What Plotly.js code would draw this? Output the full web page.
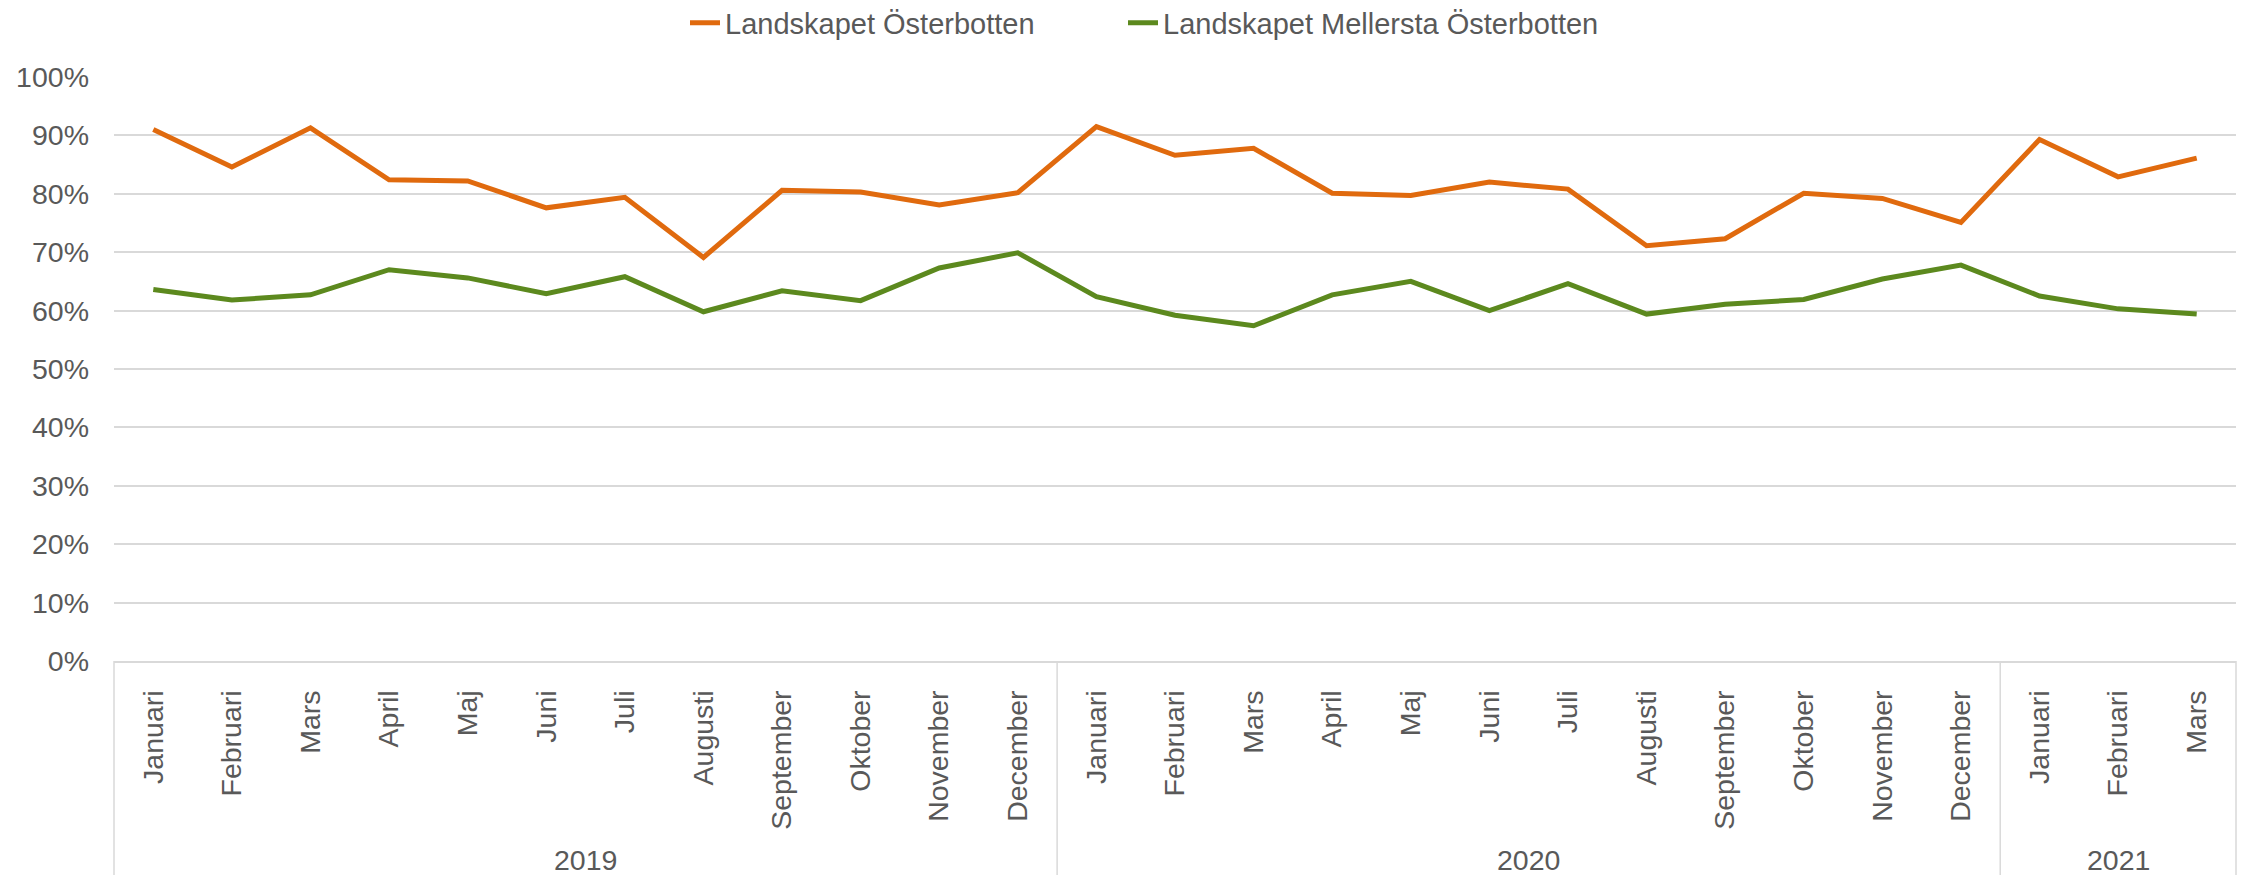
<!DOCTYPE html>
<html>
<head>
<meta charset="utf-8">
<script src="https://cdn.plot.ly/plotly-3.0.1.min.js"></script>
<style>
  html, body { margin: 0; padding: 0; background: #ffffff; }
  #chart { width: 2244px; height: 875px; }
</style>
</head>
<body>
<div id="chart"></div>
<script>
// ---- data ----
const years = ['2019', '2020', '2021'];
const monthsPerYear = [12, 12, 3];
const months = [
  'Januari','Februari','Mars','April','Maj','Juni','Juli','Augusti','September','Oktober','November','December',
  'Januari','Februari','Mars','April','Maj','Juni','Juli','Augusti','September','Oktober','November','December',
  'Januari','Februari','Mars'
];
const seriesNames = ['Landskapet Österbotten', 'Landskapet Mellersta Österbotten'];
const osterbotten = [
  91.0, 84.6, 91.3, 82.4, 82.2, 77.6, 79.4, 69.1, 80.6, 80.3, 78.1, 80.2,
  91.5, 86.6, 87.8, 80.1, 79.7, 82.0, 80.8, 71.1, 72.3, 80.1, 79.2, 75.1,
  89.3, 82.9, 86.1
];
const mellersta = [
  63.6, 61.8, 62.7, 67.0, 65.6, 62.9, 65.8, 59.8, 63.4, 61.7, 67.3, 69.9,
  62.4, 59.2, 57.4, 62.7, 65.0, 60.0, 64.6, 59.4, 61.1, 61.9, 65.4, 67.8,
  62.5, 60.3, 59.4
];
const yTicks = [0, 10, 20, 30, 40, 50, 60, 70, 80, 90, 100];
const yTickLabels = ['0%', '10%', '20%', '30%', '40%', '50%', '60%', '70%', '80%', '90%', '100%'];

// ---- build ----
const idx = months.map((_, i) => i);
const textColor = '#595959';
const gridColor = '#D9D9D9';
const font = 'Liberation Sans, Arial, sans-serif';

const traces = [
  { x: idx, y: osterbotten, name: seriesNames[0], type: 'scatter', mode: 'lines',
    legend: 'legend', line: { color: '#E06A0E', width: 5 } },
  { x: idx, y: mellersta, name: seriesNames[1], type: 'scatter', mode: 'lines',
    legend: 'legend2', line: { color: '#5C891E', width: 5 } }
];

const shapes = [];
const annotations = [];
[0, 1].forEach(px => shapes.push({
  type: 'line', xref: 'paper', yref: 'paper', x0: px, x1: px, y0: 0, y1: -0.37,
  line: { color: gridColor, width: 1.5 }
}));
let start = 0;
years.forEach((yr, k) => {
  const n = monthsPerYear[k];
  const end = start + n;
  if (k < years.length - 1) {
    shapes.push({ type: 'line', xref: 'x', yref: 'paper', x0: end - 0.5, x1: end - 0.5,
      y0: 0, y1: -0.37, line: { color: gridColor, width: 1.5 } });
  }
  annotations.push({ xref: 'x', yref: 'paper', x: (start + end - 1) / 2, y: -0.341,
    text: yr, showarrow: false, xanchor: 'center', yanchor: 'middle',
    font: { family: font, size: 28.5, color: textColor } });
  start = end;
});

const legendBase = {
  orientation: 'h', xref: 'container', yref: 'container',
  xanchor: 'left', y: 1 - 23 / 875, yanchor: 'middle',
  font: { family: font, size: 29, color: textColor },
  itemwidth: 30, bgcolor: 'rgba(0,0,0,0)'
};

const layout = {
  width: 2244, height: 875,
  margin: { l: 114, r: 8, t: 77, b: 214, pad: 0 },
  paper_bgcolor: '#ffffff', plot_bgcolor: '#ffffff',
  font: { family: font, size: 28.5, color: textColor },
  showlegend: true,
  legend: Object.assign({}, legendBase, { x: 685 / 2244 }),
  legend2: Object.assign({}, legendBase, { x: 1123 / 2244 }),
  xaxis: {
    range: [-0.5, idx.length - 0.5],
    tickmode: 'array', tickvals: idx, ticktext: months,
    tickangle: -90, ticks: '', ticklabelstandoff: 16,
    tickfont: { family: font, size: 28.5, color: textColor },
    showgrid: false, zeroline: false,
    showline: true, linecolor: gridColor, linewidth: 2,
    fixedrange: true
  },
  yaxis: {
    range: [0, 100], tickmode: 'array', tickvals: yTicks, ticktext: yTickLabels,
    ticks: '', ticklabelstandoff: 24,
    tickfont: { family: font, size: 28.5, color: textColor },
    showgrid: true, gridcolor: gridColor, gridwidth: 2,
    zeroline: false, showline: false, fixedrange: true
  },
  shapes: shapes,
  annotations: annotations
};

Plotly.newPlot('chart', traces, layout, { displayModeBar: false, staticPlot: true });
</script>
</body>
</html>
